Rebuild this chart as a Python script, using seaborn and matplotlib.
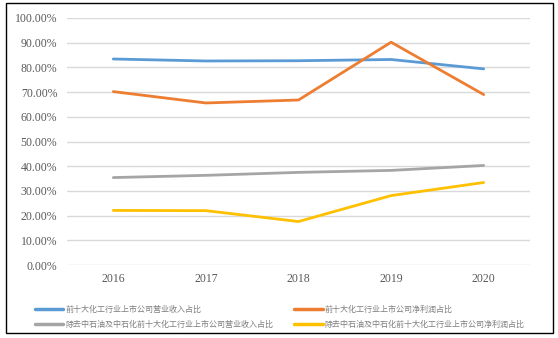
import matplotlib
matplotlib.use("Agg")
import matplotlib.pyplot as plt
import seaborn as sns
import pandas as pd
from matplotlib.patches import Rectangle
from matplotlib.lines import Line2D

years = ["2016", "2017", "2018", "2019", "2020"]
series_names = [
    "前十大化工行业上市公司营业收入占比",
    "前十大化工行业上市公司净利润占比",
    "除去中石油及中石化前十大化工行业上市公司营业收入占比",
    "除去中石油及中石化前十大化工行业上市公司净利润占比",
]
revenue_top10 = [83.4, 82.6, 82.7, 83.2, 79.4]
profit_top10 = [70.2, 65.6, 66.8, 90.2, 69.0]
revenue_ex = [35.4, 36.3, 37.5, 38.3, 40.3]
profit_ex = [22.1, 22.0, 17.6, 28.1, 33.4]
colors = ["#5B9BD5", "#ED7D31", "#A5A5A5", "#FFC000"]
yticks = [0, 10, 20, 30, 40, 50, 60, 70, 80, 90, 100]

values = [revenue_top10, profit_top10, revenue_ex, profit_ex]
rows = []
for name, vals in zip(series_names, values):
    for i, (y, v) in enumerate(zip(years, vals)):
        rows.append({"idx": i, "year": y, "series": name, "value": v})
df = pd.DataFrame(rows)

sns.set_theme(style="white")
plt.rcParams['font.family'] = ['Liberation Serif', 'Noto Sans CJK SC', 'DejaVu Sans']

fig = plt.figure(figsize=(5.58, 3.38), dpi=100)
fig.patch.set_facecolor("white")
ax = fig.add_axes([67/558, 1-265/338, (530-67)/558, (265-18)/338])

sns.lineplot(data=df, x="idx", y="value", hue="series", hue_order=series_names,
             palette=colors, linewidth=2.0, ax=ax, legend=False)

ax.set_xlim(-0.5, 4.5)
ax.set_ylim(0, 100)
ax.set_yticks(yticks)
ax.set_yticklabels([f"{t:.2f}%" for t in yticks])
ax.set_xticks(range(len(years)))
ax.set_xticklabels(years)
ax.set_xlabel("")
ax.set_ylabel("")
for s in ax.spines.values():
    s.set_visible(False)
ax.grid(axis="y", color="#D9D9D9", linewidth=1.0)
ax.set_axisbelow(True)
ax.tick_params(axis="both", length=0, labelsize=8.5, colors="#595959")
ax.tick_params(axis="y", pad=7)
ax.tick_params(axis="x", pad=6)
for lab in ax.get_xticklabels() + ax.get_yticklabels():
    lab.set_family("Liberation Serif")

handles = [Line2D([0], [0], color=c, linewidth=2.5) for c in colors]
order = [0, 2, 1, 3]
leg = fig.legend([handles[i] for i in order], [series_names[i] for i in order],
                 ncol=2, loc="upper left", bbox_to_anchor=(28/558, 1-298/338),
                 frameon=False, handlelength=3.5, handletextpad=0.25,
                 columnspacing=2.6, labelspacing=0.75,
                 prop={"family": "Noto Sans CJK SC", "size": 5.8})
for t in leg.get_texts():
    t.set_color("#7F7F7F")

fig.patches.append(Rectangle((6/558, 1-333/338), (553-6)/558, (333-3)/338,
                             transform=fig.transFigure, fill=False,
                             edgecolor="#000000", linewidth=1.0))

fig.savefig("out.png", dpi=100)
